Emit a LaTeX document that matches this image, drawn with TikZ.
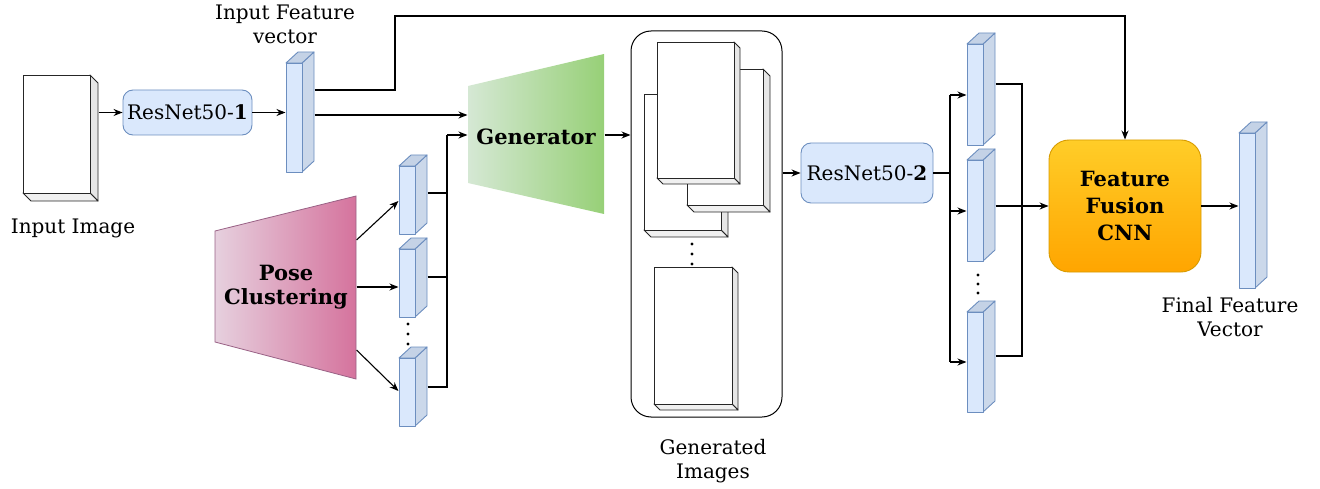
\documentclass[tikz,border=0pt]{standalone}
\usepackage{fontspec}
\setmainfont{DejaVu Serif}
\usetikzlibrary{arrows.meta,fit,calc}
\definecolor{bfill}{HTML}{DAE8FC}
\definecolor{bstroke}{HTML}{6C8EBF}
\definecolor{bside}{RGB}{203,216,234}
\definecolor{btop}{RGB}{196,210,230}
\definecolor{gside}{HTML}{E6E6E6}
\definecolor{gbot}{HTML}{F0F0F0}
\definecolor{genL}{HTML}{D5E8D4}
\definecolor{genR}{HTML}{97D077}
\definecolor{poseL}{HTML}{E6D0DE}
\definecolor{poseR}{HTML}{D5739D}
\definecolor{poseS}{HTML}{996185}
\definecolor{fusT}{HTML}{FFCD28}
\definecolor{fusB}{HTML}{FFA500}
\definecolor{fusS}{HTML}{D79B00}
% blue feature-vector cube: name, x, front top y, front bottom y
\newcommand{\vcube}[4]{%
  \filldraw[vface,fill=bside] (#2+16,#3) -- (#2+28,#3-11) -- (#2+28,#4-11) -- (#2+16,#4) -- cycle;
  \filldraw[vface,fill=btop] (#2,#3) -- (#2+12,#3-11) -- (#2+28,#3-11) -- (#2+16,#3) -- cycle;
  \filldraw[vface,fill=bfill] (#2,#3) rectangle (#2+16,#4);
  \coordinate (#1-nw) at (#2,#3-11);
  \coordinate (#1-se) at (#2+28,#4);
  \node[fit=(#1-nw)(#1-se), inner sep=0pt] (#1) {};
}
% white image cube: name, x1, y1, x2, y2, depth
\newcommand{\icube}[6]{%
  \filldraw[iface,fill=gside] (#4,#3) -- (#4+#6,#3+#6) -- (#4+#6,#5+#6) -- (#4,#5) -- cycle;
  \filldraw[iface,fill=gbot] (#2,#5) -- (#4,#5) -- (#4+#6,#5+#6) -- (#2+#6,#5+#6) -- cycle;
  \filldraw[iface,fill=white] (#2,#3) rectangle (#4,#5);
  \coordinate (#1-nw) at (#2,#3);
  \coordinate (#1-se) at (#4+#6,#5+#6);
  \node[fit=(#1-nw)(#1-se), inner sep=0pt] (#1) {};
}
\begin{document}
\begin{tikzpicture}[x=1pt,y=-1pt,line width=1.1pt,
  vface/.style={draw=bstroke, line width=0.9pt, line join=round},
  iface/.style={draw=black!85, line width=0.9pt, line join=round},
  txt/.style={font=\fontsize{20}{24}\selectfont, align=center, inner sep=0pt},
  btxt/.style={font=\fontsize{21}{24}\selectfont\bfseries, align=center, inner sep=0pt},
  arr/.style={-{Stealth[length=9pt,width=7pt]}},
  resbox/.style={draw=bstroke, fill=bfill, line width=0.9pt, rounded corners=10pt, inner sep=0pt,
    font=\fontsize{20}{24}\selectfont}]
\useasboundingbox (0,0) rectangle (1320,489);

% input image
\icube{inimg}{23}{75}{90}{193}{8}
\node[txt] (inlbl) at (73,228) {Input Image};

% ResNet50-1
\node[resbox, minimum width=129pt, minimum height=45pt] (res1) at (187.5,112.5) {ResNet50-\textbf{1}};
\draw[arr] (inimg.east |- res1) -- (res1.west);

% input feature vector
\vcube{fv}{286}{63}{172}
\node[txt] (fvlbl) at (285,24) {Input Feature\\vector};
\draw[arr] (res1.east) -- (fv.west |- res1);

% generator
\coordinate (g1) at (468,54);
\coordinate (g2) at (604,214);
\shade[left color=genL, right color=genR] (468,86) -- (604,54) -- (604,214) -- (468,183) -- cycle;
\node[fit=(g1)(g2), inner sep=0pt] (gen) {};
\node[btxt] (gentxt) at (536,137) {Generator};

% pose clustering
\coordinate (q1) at (215,196);
\coordinate (q2) at (356,379);
\shade[left color=poseL, right color=poseR, draw=poseS, line width=0.8pt] (215,231) -- (356,196) -- (356,379) -- (215,342) -- cycle;
\node[fit=(q1)(q2), inner sep=0pt] (pose) {};
\node[btxt] (posetxt) at (286,287) {Pose\\Clustering};

% pose vectors
\vcube{p1}{399}{166}{234}
\vcube{p2}{399}{249}{317}
\vcube{p3}{399}{358}{426}
\fill (408,324) circle (1.7) (408,334) circle (1.7) (408,344) circle (1.7);

\draw[arr] (pose.east |- 0,240) -- (p1.west |- 0,201);
\draw[arr] (pose.east |- 0,287) -- (p2.west |- 0,287);
\draw[arr] (pose.east |- 0,350) -- (p3.west |- 0,391);

\coordinate (pbus) at (447,135);
\draw (p1.east |- 0,193) -- (pbus |- 0,193);
\draw (p2.east |- 0,277) -- (pbus |- 0,277);
\draw (p3.east |- 0,387) -- (pbus |- 0,387) -- (pbus);
\draw[arr] (pbus) -- (gen.west |- pbus);

% feature vector to generator
\draw[arr] (fv.east |- 0,115) -- (gen.west |- 0,115);

% generated images
\node[draw, line width=1pt, rounded corners=20pt, minimum width=151pt, minimum height=386pt, inner sep=0pt] (gimgs) at (706.5,224) {};
\icube{ic}{644}{94}{721}{230}{7}
\icube{ib}{687}{69}{763}{205}{7}
\icube{ia}{657}{42}{734}{178}{6}
\icube{id}{654}{267}{732}{404}{6}
\fill (692,244) circle (1.7) (692,254) circle (1.7) (692,264) circle (1.7);
\node[txt] (gilbl) at (713,461) {Generated\\Images};
\draw[arr] (gen.east |- 0,135) -- (gimgs.west |- 0,135);

% ResNet50-2
\node[resbox, minimum width=132pt, minimum height=60pt] (res2) at (867,173) {ResNet50-\textbf{2}};
\draw[arr] (gimgs.east |- res2) -- (res2.west);

% right vectors
\vcube{v1}{967}{44}{145}
\vcube{v2}{967}{160}{261}
\vcube{v3}{967}{312}{412}
\fill (978,275) circle (1.7) (978,284) circle (1.7) (978,293) circle (1.7);

\coordinate (rbus) at (950,173);
\draw (res2.east) -- (rbus);
\draw (rbus |- 0,95) -- (rbus |- 0,362);
\draw[arr] (rbus |- 0,95) -- (v1.west |- 0,95);
\draw[arr] (rbus |- 0,211) -- (v2.west |- 0,211);
\draw[arr] (rbus |- 0,362) -- (v3.west |- 0,362);

% fusion
\node[draw=fusS, line width=0.9pt, top color=fusT, bottom color=fusB, rounded corners=20pt,
  minimum width=152pt, minimum height=132pt, inner sep=0pt,
  font=\fontsize{21}{27}\selectfont\bfseries, align=center] (fusion) at (1125,206) {Feature\\Fusion\\CNN};

\coordinate (obus) at (1022,206);
\draw (v1.east |- 0,84) -- (obus |- 0,84) -- (obus |- 0,356) -- (v3.east |- 0,356);
\draw (v2.east |- 0,206) -- (obus);
\draw[arr] (obus) -- (fusion.west);

\draw[arr] (fv.east |- 0,90) -- (395,90) -- (395,16) -- (fusion.north |- 0,16) -- (fusion.north);

% final vector
\vcube{fin}{1239}{133}{288}
\draw[arr] (fusion.east) -- (fin.west |- fusion);
\node[txt] (finlbl) at (1230,317) {Final Feature\\Vector};
\end{tikzpicture}
\end{document}
